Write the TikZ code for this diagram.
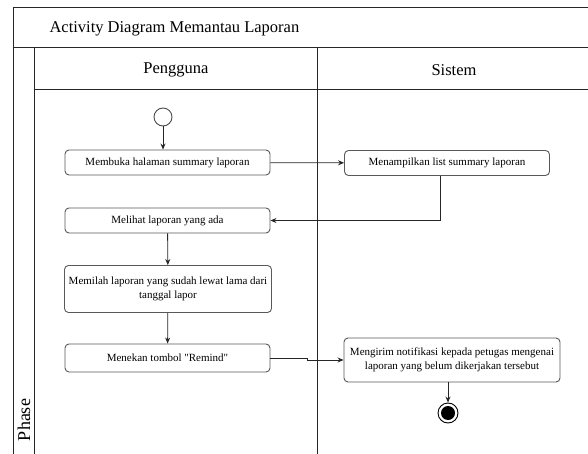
\documentclass[tikz,border=0pt]{standalone}
\usepackage{fontspec}
\setmainfont{Liberation Serif}
\usetikzlibrary{arrows.meta,calc}
\begin{document}
\begin{tikzpicture}[x=1pt,y=-1pt,
  frame/.style={line width=0.8pt,draw=black!85},
  actbox/.style={draw=black!65,line width=0.9pt,rounded corners=4pt,fill=white,align=center,
    font=\fontsize{11}{13.5}\selectfont,inner sep=1pt},
  flow/.style={line width=0.8pt,draw=black!85,-{Stealth[length=6pt,width=5pt]}},
  lanetitle/.style={font=\fontsize{16.5}{18}\selectfont}]
\useasboundingbox (0,0) rectangle (588,454);
% frame
\draw[frame] (13,454) -- (13,7) -- (588,7);
\draw[frame] (13,47) -- (588,47);
\draw[frame] (34,47) -- (34,454);
\draw[frame] (34,89) -- (588,89);
\draw[frame] (317,47) -- (317,454);
\node[lanetitle,anchor=west] (title) at (46,29) {Activity Diagram Memantau Laporan};
\node[lanetitle] (lane1) at (176,70) {Pengguna};
\node[lanetitle] (lane2) at (454,70) {Sistem};
\node[font=\fontsize{18}{20}\selectfont,rotate=90] (phase) at (24,420) {Phase};
% activities
\node[circle,draw=black!70,line width=0.9pt,minimum size=18pt,inner sep=0pt] (start) at (163,117) {};
\node[actbox,minimum width=205pt,minimum height=25pt] (b1) at (167.5,162.5) {Membuka halaman summary laporan};
\node[actbox,minimum width=205pt,minimum height=25pt] (b2) at (447,163) {Menampilkan list summary laporan};
\node[actbox,minimum width=205pt,minimum height=25pt] (b3) at (167.5,220.5) {Melihat laporan yang ada};
\node[actbox,minimum width=207pt,minimum height=47pt] (b4) at (168,289) {Memilah laporan yang sudah lewat lama dari\\tanggal lapor};
\node[actbox,minimum width=205pt,minimum height=28pt] (b5) at (167.5,358) {Menekan tombol \textquotedbl Remind\textquotedbl};
\node[actbox,minimum width=216pt,minimum height=44pt] (b6) at (452,360) {Mengirim notifikasi kepada petugas mengenai\\laporan yang belum dikerjakan tersebut};
\node[circle,draw=black,line width=0.9pt,minimum size=20pt,inner sep=0pt] (end) at (448,413) {};
\node[circle,fill=black,minimum size=14pt,inner sep=0pt] (endin) at (end) {};
% flows
\draw[flow] (start) -- (start |- b1.north);
\draw[flow] (b1) -- (b2);
\draw[flow] ([xshift=-7pt]b2.south) |- (b3.east);
\draw[flow] (b3) -- (b4);
\draw[flow] (b4) -- (b5);
\draw[flow] (b5.east) -- ++(37,0) |- (b6.west);
\draw[flow] (b6.south -| end) -- (end.north);
\end{tikzpicture}
\end{document}
